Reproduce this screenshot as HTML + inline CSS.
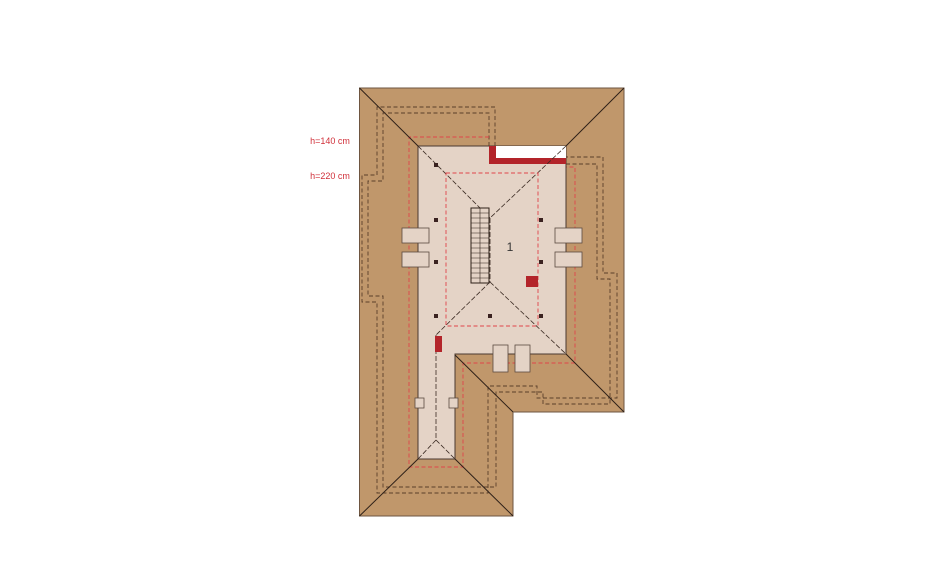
<!DOCTYPE html>
<html><head><meta charset="utf-8"><style>html,body{margin:0;padding:0;background:#fff}svg{display:block}</style></head>
<body>
<svg width="940" height="587" viewBox="0 0 940 587" xmlns="http://www.w3.org/2000/svg">
<!-- roof -->
<polygon points="359.5,88 624,88 624,412 513,412 513,516 359.5,516" fill="#c0976b" stroke="#6e5540" stroke-width="1"/>
<!-- brown dashed lines -->
<g fill="none" stroke="#5a3f2a" stroke-width="0.9" stroke-dasharray="4,2.5">
<polyline points="495,146 495,107 377,107 377,175 362,175 362,302 377,302 377,493 488,493 488,386 537,386 537,398 617,398 617,273 603,273 603,157 566,157"/>
<polyline points="489,146 489,113 383,113 383,181 368,181 368,296 383,296 383,487 496,487 496,392 543,392 543,404 610,404 610,279 597,279 597,164 566,164"/>
</g>
<!-- red outer dashed -->
<polyline points="489,137 409,137 409,467 463,467 463,363 575,363 575,167 566,167" fill="none" stroke="#e0444a" stroke-width="0.9" stroke-dasharray="4,2.5"/>
<!-- floor -->
<polygon points="418,146 566,146 566,354 455,354 455,459 418,459" fill="#e4d3c6" stroke="#4a3a30" stroke-width="1"/>
<!-- notch -->
<rect x="489" y="146" width="77" height="18" fill="#b3242a"/>
<rect x="496" y="146" width="70" height="12" fill="#ffffff"/>
<!-- hip lines solid -->
<g stroke="#2e2018" stroke-width="1" fill="none">
<line x1="359.5" y1="88" x2="418" y2="146"/>
<line x1="624" y1="88" x2="566" y2="146"/>
<line x1="566" y1="354" x2="624" y2="412"/>
<line x1="455" y1="355" x2="513" y2="412"/>
<line x1="418" y1="459" x2="359.5" y2="516"/>
<line x1="455" y1="459" x2="513" y2="516"/>
</g>
<!-- interior dashed hips -->
<g stroke="#3a2a22" stroke-width="0.8" fill="none" stroke-dasharray="5,2">
<line x1="418" y1="146" x2="490" y2="218"/>
<line x1="566" y1="146" x2="490" y2="218"/>
<line x1="490" y1="218" x2="490" y2="282"/>
<line x1="490" y1="282" x2="566" y2="354"/>
<line x1="490" y1="282" x2="436" y2="335"/>
<line x1="436" y1="335" x2="436" y2="440"/>
<line x1="436" y1="440" x2="418" y2="459"/>
<line x1="436" y1="440" x2="455" y2="459"/>
</g>
<!-- red inner dashed rect -->
<rect x="446" y="173" width="92" height="153" fill="none" stroke="#e0444a" stroke-width="0.9" stroke-dasharray="4,2.5"/>
<!-- stairs -->
<rect x="471" y="208" width="18" height="75" fill="#e4d3c6" stroke="#2e2018" stroke-width="1"/>
<g stroke="#2e2018" stroke-width="0.6">
<line x1="480" y1="208" x2="480" y2="283"/>
<line x1="471" y1="213" x2="489" y2="213"/><line x1="471" y1="218" x2="489" y2="218"/><line x1="471" y1="223" x2="489" y2="223"/><line x1="471" y1="228" x2="489" y2="228"/><line x1="471" y1="233" x2="489" y2="233"/><line x1="471" y1="238" x2="489" y2="238"/><line x1="471" y1="243" x2="489" y2="243"/><line x1="471" y1="248" x2="489" y2="248"/><line x1="471" y1="253" x2="489" y2="253"/><line x1="471" y1="258" x2="489" y2="258"/><line x1="471" y1="263" x2="489" y2="263"/><line x1="471" y1="268" x2="489" y2="268"/><line x1="471" y1="273" x2="489" y2="273"/><line x1="471" y1="278" x2="489" y2="278"/>
</g>
<!-- dormer boxes -->
<g fill="#e4d3c6" stroke="#5a4a40" stroke-width="0.8">
<rect x="402" y="228" width="27" height="15"/><rect x="402" y="252" width="27" height="15"/>
<rect x="555" y="228" width="27" height="15"/><rect x="555" y="252" width="27" height="15"/>
<rect x="493" y="345" width="15" height="27"/><rect x="515" y="345" width="15" height="27"/>
<rect x="415" y="398" width="9" height="10"/><rect x="449" y="398" width="9" height="10"/>
</g>
<!-- dots -->
<g fill="#3a2220">
<rect x="434" y="163" width="4" height="4"/><rect x="434" y="218" width="4" height="4"/><rect x="434" y="260" width="4" height="4"/><rect x="434" y="314" width="4" height="4"/>
<rect x="488" y="314" width="4" height="4"/><rect x="539" y="314" width="4" height="4"/><rect x="539" y="218" width="4" height="4"/><rect x="539" y="260" width="4" height="4"/>
</g>
<rect x="526" y="276" width="12" height="11" fill="#b3242a"/>
<rect x="435" y="336" width="7" height="16" fill="#b3242a"/>
<text x="510" y="251" font-family="Liberation Sans, sans-serif" font-size="12" fill="#333" text-anchor="middle">1</text>
<text x="330" y="144" font-family="Liberation Sans, sans-serif" font-size="9" fill="#d0303a" text-anchor="middle">h=140 cm</text>
<text x="330" y="179" font-family="Liberation Sans, sans-serif" font-size="9" fill="#d0303a" text-anchor="middle">h=220 cm</text>
</svg>
</body></html>
